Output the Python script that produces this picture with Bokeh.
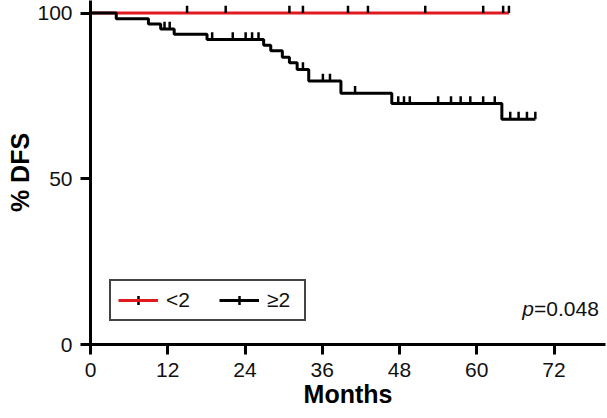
import numpy as np
from bokeh.plotting import figure
from bokeh.models import FixedTicker, Legend, LegendItem, Label, Range1d
from bokeh.embed import file_html
from bokeh.resources import INLINE

# ---- data ----
high_time = [0, 4.0, 9.0, 10.9, 13.0, 18.1, 26.9, 28.0, 29.8, 30.9, 32.1, 33.9, 38.9, 46.8, 63.9, 69.1]
high_surv = [100, 98.3, 96.7, 95.2, 93.6, 92.0, 90.3, 88.6, 86.7, 85.0, 83.0, 79.5, 75.8, 72.7, 68.0, 68.0]
high_censor = [11.5, 12.3, 18.9, 22.1, 24.1, 25.1, 26.1, 33.0, 36.1, 37.2, 41.1, 47.8, 48.7, 49.6,
               54.0, 56.0, 57.5, 59.0, 61.0, 62.8, 65.2, 66.5, 67.8, 69.1]
low_time = [0, 65.0]
low_surv = [100, 100]
low_censor = [15.0, 21.0, 30.9, 33.0, 40.0, 43.1, 52.0, 61.0, 64.1, 65.0]
x_ticks = [0, 12, 24, 36, 48, 60, 72]
y_ticks = [0, 50, 100]
group_labels = ["<2", "\u22652"]
x_title = "Months"
y_title = "% DFS"
p_value_text = "=0.048"

RED = "#e0191e"
FONT = "Liberation Sans"
TICK_H = 2.2  # censor tick height in data units


def level_at(times, surv, t):
    idx = np.searchsorted(np.asarray(times), np.asarray(t), side="right") - 1
    return np.asarray(surv)[idx]


p = figure(width=607, height=418, x_range=Range1d(0, 80), y_range=Range1d(0, 103.8),
           output_backend="svg", toolbar_location=None,
           min_border_left=90, min_border_right=2, min_border_top=0, min_border_bottom=74)
p.outline_line_color = None
p.grid.visible = False
p.background_fill_color = "white"

r_low = p.step(low_time, low_surv, mode="after", line_color=RED, line_width=3)
r_high = p.step(high_time, high_surv, mode="after", line_color="black", line_width=3)

lc = np.asarray(low_censor)
ly = level_at(low_time, low_surv, lc)
p.segment(x0=lc, y0=ly, x1=lc, y1=ly + TICK_H, line_color="black", line_width=2.5)
hc = np.asarray(high_censor)
hy = level_at(high_time, high_surv, hc)
p.segment(x0=hc, y0=hy, x1=hc, y1=hy + TICK_H, line_color="black", line_width=2.5)

# censor mark used only for the legend glyph (hidden in the plot area)
r_mark = p.scatter(x=hc, y=hy, marker="cross", size=10, line_color="black", line_width=2.5,
                   visible=False)

for ax, ticks, title in ((p.xaxis[0], x_ticks, x_title), (p.yaxis[0], y_ticks, y_title)):
    ax.ticker = FixedTicker(ticks=ticks)
    ax.axis_line_width = 3
    ax.axis_line_color = "black"
    ax.major_tick_line_width = 3
    ax.major_tick_line_color = "black"
    ax.major_tick_out = 10
    ax.major_tick_in = 0
    ax.minor_tick_line_color = None
    ax.major_label_text_font = FONT
    ax.major_label_text_font_size = "21px"
    ax.major_label_text_color = "#111111"
    ax.major_label_standoff = 8
    ax.axis_label = title
    ax.axis_label_text_font = FONT
    ax.axis_label_text_font_size = "25px"
    ax.axis_label_text_font_style = "bold"
    ax.axis_label_text_color = "black"
    ax.axis_label_standoff = 0
p.xaxis[0].axis_label_text_baseline = "middle"

legend = Legend(items=[LegendItem(label=group_labels[0], renderers=[r_mark, r_low]),
                       LegendItem(label=group_labels[1], renderers=[r_mark, r_high])],
                location=(19, 23), orientation="horizontal",
                glyph_width=40, glyph_height=22, label_height=22, label_width=30,
                label_standoff=8, spacing=23, padding=7, margin=0,
                label_text_font=FONT, label_text_font_size="21px", label_text_color="#111111",
                border_line_color="#444444", border_line_width=2, border_line_alpha=1,
                background_fill_color="white", background_fill_alpha=1)
p.add_layout(legend)

p.add_layout(Label(x=68.9, y=10.9, text="p", text_font=FONT, text_font_size="21px",
                   text_color="#111111",
                   text_font_style="italic", text_align="right", text_baseline="middle"))
p.add_layout(Label(x=68.9, y=10.9, text=p_value_text, text_font=FONT, text_font_size="21px",
                   text_color="#111111", text_align="left", text_baseline="middle"))

open("out.html", "w").write(file_html(p, INLINE))
